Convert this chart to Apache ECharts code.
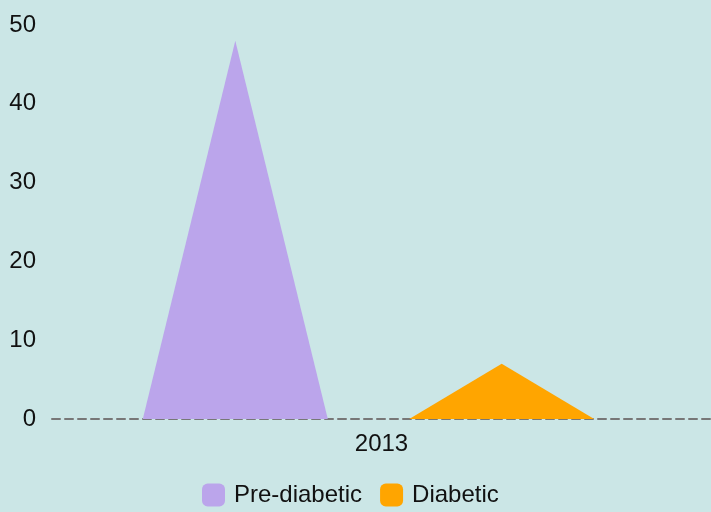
<!DOCTYPE html>
<html><head><meta charset="utf-8">
<script src="https://cdn.jsdelivr.net/npm/echarts@6/dist/echarts.min.js"></script>
<style>html,body{margin:0;padding:0;background:#cbe6e6;}#c{width:711px;height:512px;}</style>
</head><body><div id="c"></div>
<script>
const categories = ['2013'];
const seriesNames = ['Pre-diabetic', 'Diabetic'];
const preDiabetic = [48];
const diabetic = [7];
const yTicks = [0, 10, 20, 30, 40, 50];

const chart = echarts.init(document.getElementById('c'));
const font = 'Liberation Sans, Arial, sans-serif';
chart.setOption({
  backgroundColor: '#cbe6e6',
  animation: false,
  grid: {left: 52, right: 0, top: 25, bottom: 93},
  legend: {
    top: 483, left: 202, padding: 0, itemWidth: 23, itemHeight: 23, itemGap: 18,
    icon: 'roundRect',
    textStyle: {fontFamily: font, fontSize: 24, color: '#111', padding: [0, 0, 0, 4]},
    data: seriesNames
  },
  xAxis: {
    type: 'category', data: categories,
    axisLine: {show: true, lineStyle: {color: '#777', type: [8, 5], width: 2}},
    axisTick: {show: false},
    axisLabel: {fontFamily: font, fontSize: 24, color: '#111', margin: 13}
  },
  yAxis: {
    type: 'value', min: yTicks[0], max: yTicks[yTicks.length - 1], interval: 10,
    splitLine: {show: false},
    axisLine: {show: false}, axisTick: {show: false},
    axisLabel: {fontFamily: font, fontSize: 24, color: '#111', margin: 16}
  },
  series: [
    {
      name: seriesNames[0], type: 'pictorialBar', symbol: 'triangle',
      barWidth: 185, barGap: '44%', symbolOffset: [-13, 0],
      itemStyle: {color: '#bba5eb'}, data: preDiabetic, z: 1
    },
    {
      name: seriesNames[1], type: 'pictorialBar', symbol: 'triangle',
      barWidth: 185, barGap: '44%', symbolOffset: [-13, 0],
      itemStyle: {color: '#ffa500'}, data: diabetic, z: 1
    }
  ]
});
</script></body></html>
